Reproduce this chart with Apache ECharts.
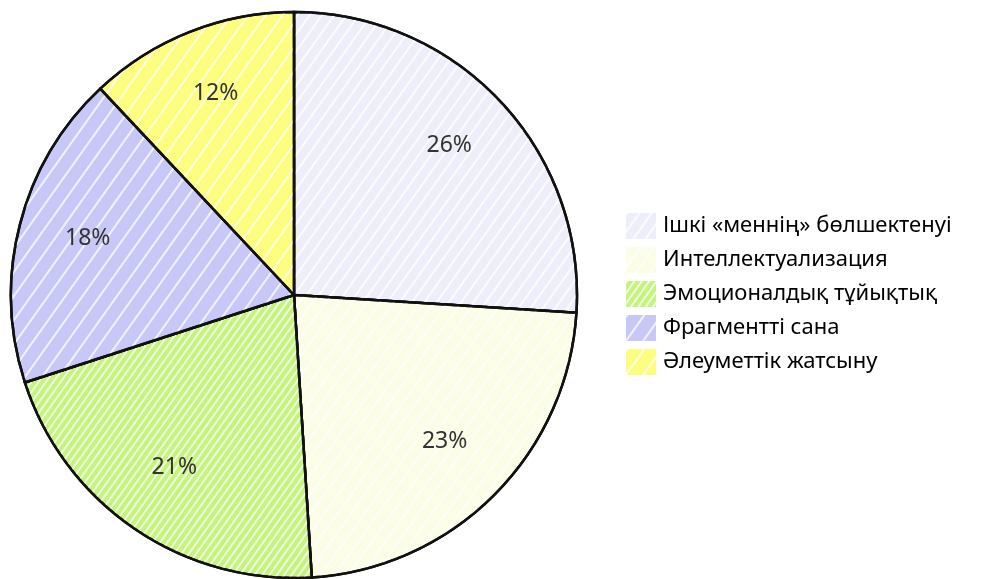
<!DOCTYPE html>
<html>
<head>
<meta charset="utf-8">
<script src="https://cdn.jsdelivr.net/npm/echarts@6/dist/echarts.min.js"></script>
<style>html,body{margin:0;padding:0;background:#fff}#c{width:991px;height:579px}</style>
</head>
<body>
<div id="c"></div>
<script>
const categories = ["Ішкі «меннің» бөлшектенуі", "Интеллектуализация", "Эмоционалдық тұйықтық", "Фрагментті сана", "Әлеуметтік жатсыну"];
const values = [26, 23, 21, 18, 12];
const colors = ["#eeeefb", "#fbfde6", "#c4f47c", "#c8c8f8", "#fdfd80"];

const stripe = (gap) => ({
  symbol: 'rect',
  color: 'rgba(255,255,255,0.75)',
  dashArrayX: [1, 0],
  dashArrayY: [2, gap],
  rotation: -Math.PI / 3.3
});
const decals = [stripe(8), stripe(9), stripe(4), stripe(12), stripe(12)];

const chart = echarts.init(document.getElementById('c'));
const data = categories.map((n, i) => ({
  name: n, value: values[i],
  itemStyle: { color: colors[i], decal: decals[i] }
}));
chart.setOption({
  animation: false,
  legend: {
    orient: 'vertical',
    left: 621, top: 208,
    icon: 'rect',
    itemWidth: 30, itemHeight: 26, itemGap: 8,
    itemStyle: { borderWidth: 0 },
    textStyle: { fontFamily: 'Noto Sans', fontSize: 22, color: '#000', padding: [0, 0, 0, 2] },
    data: categories
  },
  series: [{
    type: 'pie',
    center: [294, 295],
    radius: [0, 283],
    startAngle: 90,
    clockwise: true,
    silent: true,
    itemStyle: { borderColor: '#111', borderWidth: 2.5 },
    label: { show: false },
    labelLine: { show: false },
    data: data
  }, {
    type: 'pie',
    center: [294, 291],
    radius: [137, 283],
    startAngle: 90,
    clockwise: true,
    silent: true,
    legendHoverLink: false,
    itemStyle: { color: 'rgba(0,0,0,0)', borderWidth: 0 },
    label: {
      show: true, position: 'inside',
      formatter: (p) => p.value + '%',
      fontFamily: 'Noto Sans', fontSize: 23, color: '#333'
    },
    labelLine: { show: false },
    data: categories.map((n, i) => ({ name: n + ' ', value: values[i] }))
  }]
});
</script>
</body>
</html>
